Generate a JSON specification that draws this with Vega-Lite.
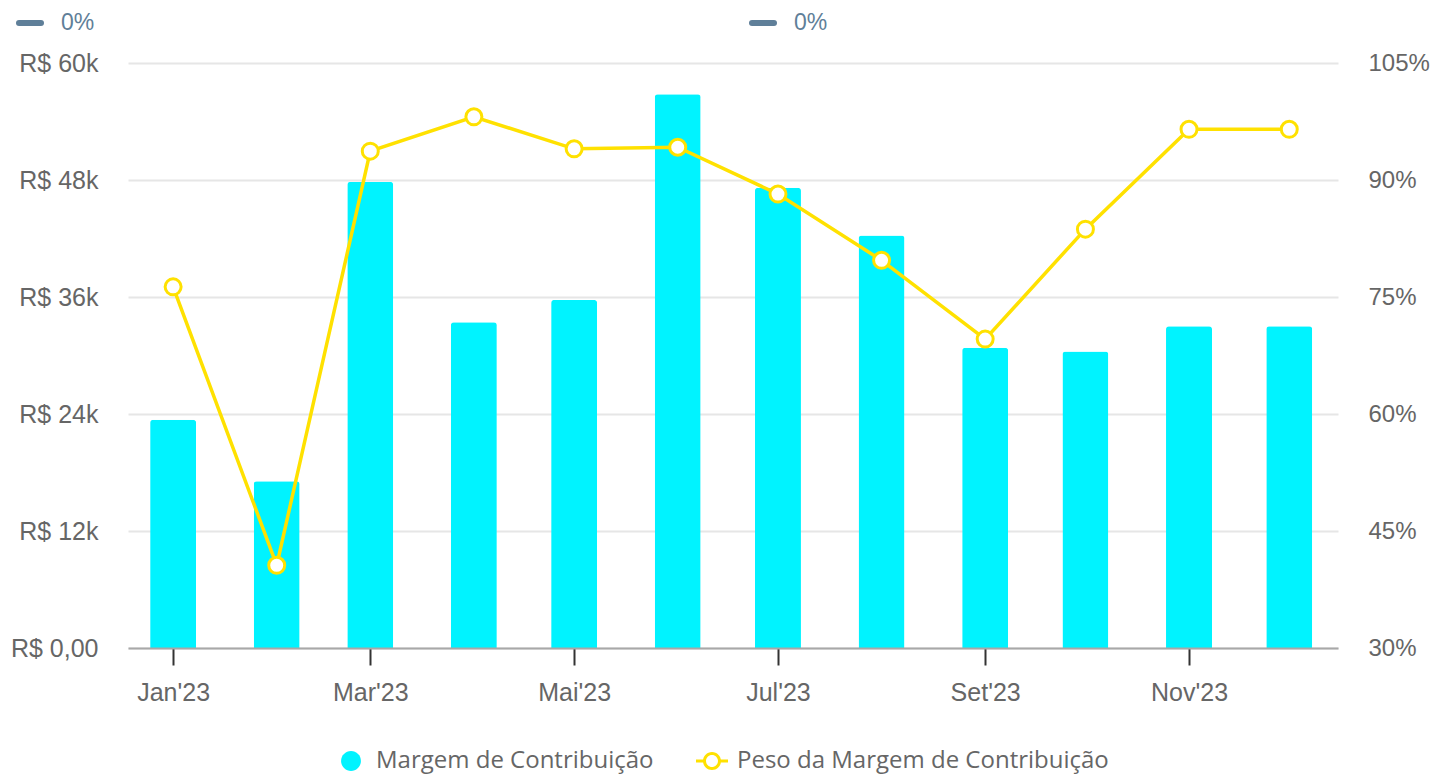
{
  "$schema": "https://vega.github.io/schema/vega-lite/v6.json",
  "width": 1210,
  "height": 585,
  "autosize": {"type": "none"},
  "padding": {"left": 128, "top": 63, "right": 96, "bottom": 130},
  "background": "white",
  "config": {
    "view": {"stroke": null},
    "font": "Liberation Sans",
    "axis": {"labelFont": "Liberation Sans", "labelFontSize": 25, "labelColor": "#666666", "title": null}
  },
  "data": {
    "values": [
      {"mes": "2023-01-01", "margem": 23400, "peso": 76.3},
      {"mes": "2023-02-01", "margem": 17100, "peso": 40.6},
      {"mes": "2023-03-01", "margem": 47800, "peso": 93.7},
      {"mes": "2023-04-01", "margem": 33400, "peso": 98.1},
      {"mes": "2023-05-01", "margem": 35700, "peso": 94.0},
      {"mes": "2023-06-01", "margem": 56800, "peso": 94.2},
      {"mes": "2023-07-01", "margem": 47200, "peso": 88.2},
      {"mes": "2023-08-01", "margem": 42300, "peso": 79.7},
      {"mes": "2023-09-01", "margem": 30800, "peso": 69.6},
      {"mes": "2023-10-01", "margem": 30400, "peso": 83.7},
      {"mes": "2023-11-01", "margem": 33000, "peso": 96.5},
      {"mes": "2023-12-01", "margem": 33000, "peso": 96.5}
    ]
  },
  "layer": [
    {
      "mark": {"type": "bar", "size": 46, "cornerRadiusTopLeft": 3, "cornerRadiusTopRight": 3},
      "encoding": {
        "x": {
          "field": "mes",
          "type": "temporal",
          "scale": {
            "type": "utc",
            "padding": 0,
            "domain": [
              {"year": 2022, "month": 12, "date": 18, "hours": 12, "utc": true},
              {"year": 2023, "month": 12, "date": 15, "hours": 14, "utc": true}
            ]
          },
          "axis": {
            "values": [
              {"year": 2023, "month": 1, "date": 1, "utc": true},
              {"year": 2023, "month": 3, "date": 1, "utc": true},
              {"year": 2023, "month": 5, "date": 1, "utc": true},
              {"year": 2023, "month": 7, "date": 1, "utc": true},
              {"year": 2023, "month": 9, "date": 1, "utc": true},
              {"year": 2023, "month": 11, "date": 1, "utc": true}
            ],
            "labelExpr": "['Jan','Fev','Mar','Abr','Mai','Jun','Jul','Ago','Set','Out','Nov','Dez'][utcmonth(datum.value)] + \"'\" + utcFormat(datum.value, '%y')",
            "grid": false,
            "domain": true,
            "domainColor": "#a8a8a8",
            "domainWidth": 2,
            "ticks": true,
            "tickColor": "#333333",
            "tickWidth": 2,
            "tickSize": 17,
            "labelPadding": 15,
            "zindex": 1
          }
        },
        "y": {
          "field": "margem",
          "type": "quantitative",
          "scale": {"domain": [0, 60000], "nice": false},
          "axis": {
            "orient": "left",
            "values": [0, 12000, 24000, 36000, 48000, 60000],
            "labelExpr": "datum.value == 0 ? 'R$ 0,00' : 'R$ ' + datum.value / 1000 + 'k'",
            "grid": true,
            "gridColor": "#e6e6e6",
            "gridWidth": 2,
            "domain": false,
            "ticks": false,
            "labelPadding": 30
          }
        },
        "color": {
          "datum": "Margem de Contribuição",
          "scale": {
            "domain": ["Margem de Contribuição", "Peso da Margem de Contribuição"],
            "range": ["#00F3FF", "#FFE100"]
          },
          "legend": {
            "orient": "none",
            "legendX": 207,
            "legendY": 682,
            "direction": "horizontal",
            "title": null,
            "symbolSize": 1024,
            "symbolStrokeWidth": 0,
            "labelFont": "Open Sans",
            "labelFontSize": 24,
            "labelColor": "#666666",
            "labelOffset": 9,
            "labelLimit": 1000,
            "columnPadding": 42,
            "padding": 0,
            "encode": {
              "symbols": {
                "update": {
                  "shape": {"signal": "datum.value === 'Margem de Contribuição' ? 'M0.62,0A0.62,0.62 0 1,1 -0.62,0A0.62,0.62 0 1,1 0.62,0Z' : 'M0.5625,0A0.5625,0.5625 0 1,1 -0.5625,0A0.5625,0.5625 0 1,1 0.5625,0ZM0.375,0A0.375,0.375 0 1,0 -0.375,0A0.375,0.375 0 1,0 0.375,0ZM-1,-0.094H-0.54V0.094H-1ZM0.54,-0.094H1V0.094H0.54Z'"},
                  "fill": {"signal": "datum.value === 'Margem de Contribuição' ? '#00F3FF' : '#FFE100'"},
                  "strokeWidth": {"value": 0},
                  "opacity": {"value": 1},
                  "fillOpacity": {"value": 1}
                }
              }
            }
          }
        }
      }
    },
    {
      "encoding": {
        "x": {"field": "mes", "type": "temporal", "scale": {"type": "utc"}},
        "y": {
          "field": "peso",
          "type": "quantitative",
          "scale": {"domain": [30, 105], "nice": false},
          "axis": {
            "orient": "right",
            "values": [30, 45, 60, 75, 90, 105],
            "labelExpr": "datum.value + '%'",
            "labelFontSize": 24,
            "grid": false,
            "domain": false,
            "ticks": false,
            "labelPadding": 30
          }
        }
      },
      "layer": [
        {
          "mark": {"type": "line", "strokeWidth": 3.5},
          "encoding": {
            "color": {
              "datum": "Peso da Margem de Contribuição",
              "legend": {
                "orient": "none",
                "legendX": 207,
                "legendY": 682,
                "direction": "horizontal",
                "title": null,
                "symbolSize": 1024,
                "symbolStrokeWidth": 0,
                "labelFont": "Open Sans",
                "labelFontSize": 24,
                "labelColor": "#666666",
                "labelOffset": 9,
                "labelLimit": 1000,
                "columnPadding": 42,
                "padding": 0,
                "encode": {
                  "symbols": {
                    "update": {
                      "shape": {"signal": "datum.value === 'Margem de Contribuição' ? 'M0.62,0A0.62,0.62 0 1,1 -0.62,0A0.62,0.62 0 1,1 0.62,0Z' : 'M0.5625,0A0.5625,0.5625 0 1,1 -0.5625,0A0.5625,0.5625 0 1,1 0.5625,0ZM0.375,0A0.375,0.375 0 1,0 -0.375,0A0.375,0.375 0 1,0 0.375,0ZM-1,-0.094H-0.54V0.094H-1ZM0.54,-0.094H1V0.094H0.54Z'"},
                      "fill": {"signal": "datum.value === 'Margem de Contribuição' ? '#00F3FF' : '#FFE100'"},
                      "strokeWidth": {"value": 0},
                      "opacity": {"value": 1},
                      "fillOpacity": {"value": 1}
                    }
                  }
                }
              }
            }
          }
        },
        {
          "mark": {"type": "point", "shape": "circle", "filled": true, "fill": "#ffffff", "stroke": "#FFE100", "strokeWidth": 3, "size": 256, "opacity": 1}
        }
      ]
    },
    {
      "data": {"values": [{"s": "a"}, {"s": "b"}]},
      "mark": {"type": "rule", "strokeOpacity": 0},
      "encoding": {
        "stroke": {
          "field": "s",
          "type": "nominal",
          "scale": {"domain": ["a", "b"], "range": ["#5f7f99", "#5f7f99"]},
          "legend": {
            "orient": "none",
            "legendX": -112,
            "legendY": -54,
            "direction": "horizontal",
            "title": null,
            "labelExpr": "'0%'",
            "symbolType": "M-1,0H1",
            "symbolSize": 484,
            "symbolStrokeWidth": 6,
            "labelOffset": 17,
            "columnPadding": 645,
            "labelFont": "Liberation Sans",
            "labelFontSize": 23,
            "labelColor": "#5f7f99",
            "padding": 0,
            "encode": {
              "symbols": {
                "update": {
                  "strokeCap": {"value": "round"},
                  "opacity": {"value": 1},
                  "strokeOpacity": {"value": 1}
                }
              }
            }
          }
        }
      }
    }
  ],
  "resolve": {"scale": {"y": "independent"}}
}
